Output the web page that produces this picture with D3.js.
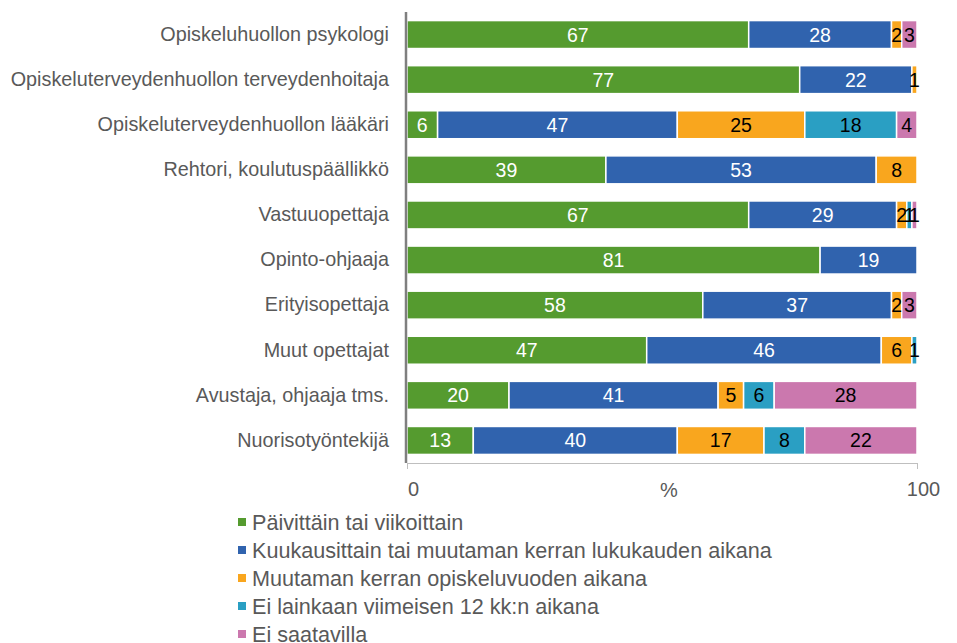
<!DOCTYPE html>
<html><head><meta charset="utf-8">
<script src="https://cdn.jsdelivr.net/npm/d3@7"></script>
<style>body{margin:0;background:#fff}svg{display:block;font-family:"Liberation Sans",Arial,sans-serif}</style>
</head><body><svg id="c" width="957" height="643"></svg>
<script>
const categories = ["Opiskeluhuollon psykologi","Opiskeluterveydenhuollon terveydenhoitaja","Opiskeluterveydenhuollon lääkäri","Rehtori, koulutuspäällikkö","Vastuuopettaja","Opinto-ohjaaja","Erityisopettaja","Muut opettajat","Avustaja, ohjaaja tms.","Nuorisotyöntekijä"];
const seriesNames = ["Päivittäin tai viikoittain","Kuukausittain tai muutaman kerran lukukauden aikana","Muutaman kerran opiskeluvuoden aikana","Ei lainkaan viimeisen 12 kk:n aikana","Ei saatavilla"];
const daily   = [67,77,6,39,67,81,58,47,20,13];
const monthly = [28,22,47,53,29,19,37,46,41,40];
const yearly  = [2,1,25,8,2,0,2,6,5,17];
const never   = [0,0,18,0,1,0,0,1,6,8];
const na      = [3,0,4,0,1,0,3,0,28,22];
const colors = ["#559B2F","#3063AE","#F9A61E","#2A9FC3","#CB78AE"];
const labelColors = ["#fff","#fff","#000","#000","#000"];
const xTicks = [0,100];
const xTitle = "%";

const svg = d3.select("#c");
const x = d3.scaleLinear().domain([0,100]).range([407,917]);
const y = d3.scaleBand().domain(categories).range([12,463]).paddingInner(0.38).paddingOuter(0.19);
const table = categories.map((c,i)=>({cat:c, vals:[daily[i],monthly[i],yearly[i],never[i],na[i]]}));

table.forEach(row=>{
  let acc=0;
  row.vals.forEach((v,k)=>{
    const x0=acc; acc+=v;
    if(v<=0) return;
    svg.append("rect").attr("x",x(x0)).attr("y",y(row.cat)).attr("width",x(acc)-x(x0)).attr("height",y.bandwidth())
      .attr("fill",colors[k]).attr("stroke","#fff").attr("stroke-width",1.5);
  });
  acc=0;
  row.vals.forEach((v,k)=>{
    const x0=acc; acc+=v;
    if(v<=0) return;
    svg.append("text").attr("x",(x(x0)+x(acc))/2).attr("y",y(row.cat)+y.bandwidth()/2).attr("dy","0.36em")
      .attr("text-anchor","middle").attr("font-size",19.5).attr("fill",labelColors[k]).text(v);
  });
});

// category axis
const ya = svg.append("g").attr("transform","translate(406,0)").call(d3.axisLeft(y).tickSize(0).tickPadding(17));
ya.select(".domain").attr("stroke","#7f7f7f").attr("stroke-width",2.5).attr("d","M0,12V463");
ya.selectAll("text").attr("font-size",19.8).attr("fill","#595959").attr("font-family","Liberation Sans, Arial, sans-serif");

// x axis
const xa = svg.append("g").attr("transform","translate(0,463)").call(d3.axisBottom(x).tickValues(xTicks).tickSize(6).tickPadding(13).tickSizeOuter(0));
xa.select(".domain").attr("stroke","#bfbfbf");
xa.selectAll("line").attr("stroke","#bfbfbf");
xa.selectAll("text").attr("font-size",20).attr("fill","#595959").attr("dx",6).attr("font-family","Liberation Sans, Arial, sans-serif");
svg.append("text").attr("x",(x(0)+x(100))/2+7).attr("y",497).attr("text-anchor","middle").attr("font-size",20).attr("fill","#595959").text(xTitle);

// legend
const lg = svg.append("g");
seriesNames.forEach((n,i)=>{
  const yy = 522 + i*28;
  lg.append("rect").attr("x",238).attr("y",yy-4).attr("width",8).attr("height",8).attr("fill",colors[i]);
  lg.append("text").attr("x",252).attr("y",yy).attr("dy","0.36em").attr("font-size",21.6).attr("fill","#595959").text(n);
});
</script></body></html>
